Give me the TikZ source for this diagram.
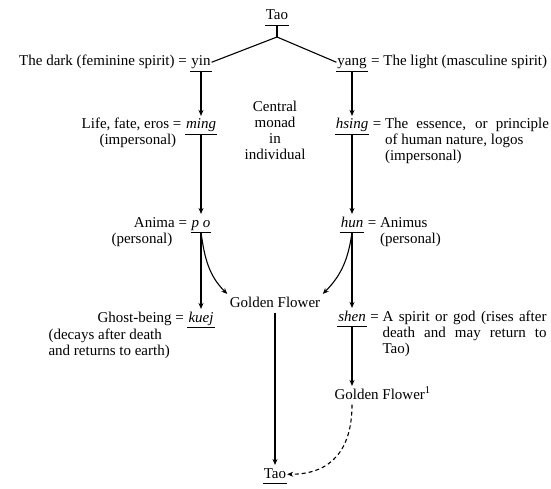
\documentclass[tikz,border=0pt]{standalone}
\usepackage{fontspec}
\setmainfont{Liberation Serif}
\usetikzlibrary{arrows.meta, positioning}

\begin{document}
\begin{tikzpicture}[x=1pt, y=-1pt, line width=1.1pt, >={Stealth[length=6pt, width=5pt]},
    font=\fontsize{15}{16}\selectfont,
    term/.style={inner xsep=0.5pt, inner ysep=1.5pt, text height=11pt, text depth=3.5pt,
      append after command={(\tikzlastnode.south west) edge[-] (\tikzlastnode.south east)}},
    flower/.style={inner xsep=2pt, inner ysep=1.5pt, text height=11pt, text depth=3.5pt},
    note/.style={inner sep=0pt, align=left}]
  \useasboundingbox (0,0) rectangle (551,489);

    % top of the tree
    \node[term, anchor=base] (taotop) at (277,20) {Tao};
    \coordinate (fork) at (277,37);
    \node[term, anchor=base] (yin) at (201,66) {yin};
    \node[note, base left=3pt of yin] (yinnote) {The dark (feminine spirit) =};
    \node[term, anchor=base] (yang) at (352,66) {yang};
    \node[note, base right=3pt of yang] (yangnote) {= The light (masculine spirit)};

    % left column
    \node[term, anchor=base] (ming) at (201,129) {\textit{ming}};
    \node[note, base left=3pt of ming] (mingnote) {Life, fate, eros =};
    \node[note, anchor=base west] (mingnote2) at (99,145) {(impersonal)};
    \node[term, anchor=base] (po) at (201,227) {\textit{p o}};
    \node[note, base left=3pt of po] (ponote) {Anima =};
    \node[note, anchor=base west] (ponote2) at (111,243) {(personal)};
    \node[term, anchor=base] (kuej) at (201,322) {\textit{kuej}};
    \node[note, base left=3pt of kuej] (kuejnote) {Ghost-being =};
    \node[note, anchor=base west] (kuejnote2) at (48,355) {(decays after death\\and returns to earth)};

    % middle (base of a several-line node is its last line)
    \node[note, align=center, anchor=base] (monad) at (275,160) {Central\\monad\\in\\individual};
    \node[flower, anchor=base] (gf) at (275,307) {Golden Flower};
    \node[term, anchor=base] (taobot) at (275,478) {Tao};

    % right column
    \node[term, anchor=base] (hsing) at (352,129) {\textit{hsing}};
    \node[note, base right=3pt of hsing] (hsingnote) {\begin{tabular}[t]{@{}l@{ }l@{}}
      = & \makebox[164pt][s]{The essence, or principle}\\ & of human nature, logos\\ & (impersonal)\end{tabular}};
    \node[term, anchor=base] (hun) at (352,227) {\textit{hun}};
    \node[note, base right=3pt of hun] (hunnote) {\begin{tabular}[t]{@{}l@{ }l@{}}
      = & Animus\\ & (personal)\end{tabular}};
    \node[term, anchor=base] (shen) at (352,321) {\textit{shen}};
    \node[note, base right=3pt of shen] (shennote) {\begin{tabular}[t]{@{}l@{ }l@{}}
      = & \makebox[164pt][s]{A spirit or god (rises after}\\ & \makebox[164pt][s]{death and may return to}\\ & Tao)\end{tabular}};
    \node[flower, anchor=base west] (gf2) at (332,399) {Golden Flower\textsuperscript{1}};

    \draw (taotop.south) -- (fork);
    \draw (yin.east) -- (fork) -- (yang.west);
    \path [->] (yin.south) edge (ming.north)
               (ming.south) edge (po.north)
               (po.south) edge (kuej.north)
               (po.south) edge[out=-82, in=135] (gf.north west);
    \path [->] (yang.south) edge (hsing.north)
               (hsing.south) edge (hun.north)
               (hun.south) edge (shen.north)
               (hun.south) edge[out=-98, in=45] (gf.north east)
               (shen.south) edge (shen.south |- gf2.north);
    \path [->] (gf.south) edge (taobot.north);
    \path [->, dash pattern=on 4pt off 3pt] (shen.south |- gf2.south) edge[out=-90, in=0, looseness=1.2] (taobot.east);
\end{tikzpicture}
\end{document}
